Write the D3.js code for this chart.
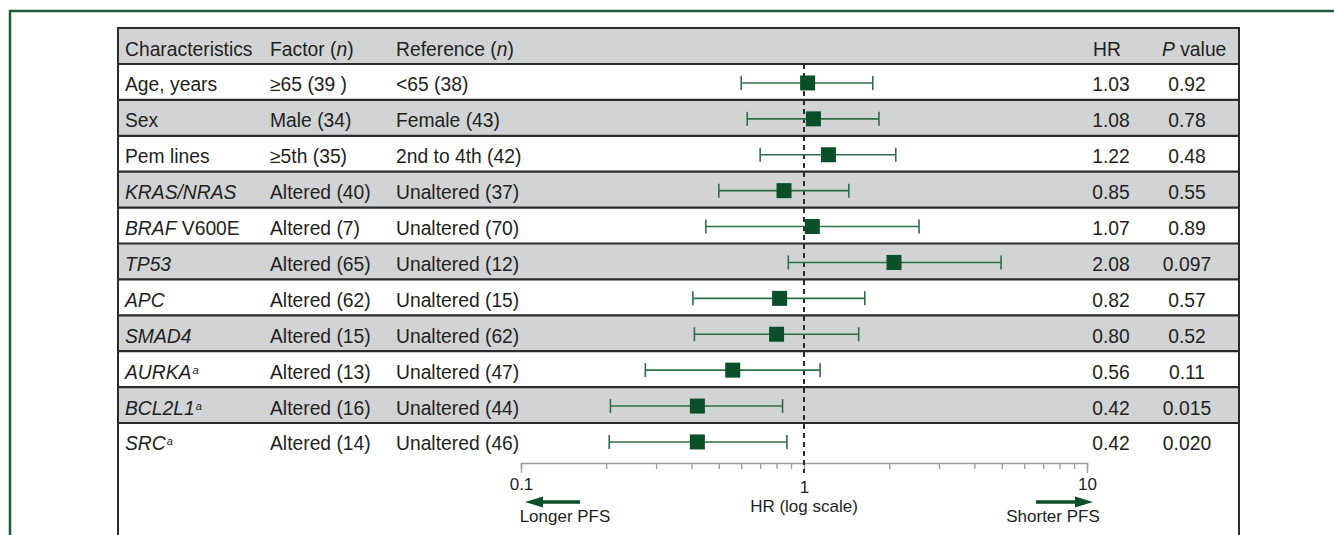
<!DOCTYPE html>
<html lang="en">
<head>
<meta charset="utf-8">
<script src="https://d3js.org/d3.v7.min.js"></script>
<style>
  body { margin: 0; background: #fff; }
  text { font-family: "Liberation Sans", Arial, Helvetica, sans-serif; fill: #231f20; }
</style>
</head>
<body>
<script>
// table data
const characteristics = ["Age, years", "Sex", "Pem lines", "KRAS/NRAS", "BRAF V600E", "TP53", "APC", "SMAD4", "AURKA", "BCL2L1", "SRC"];
const italicGenes = ["KRAS/NRAS", "BRAF", "TP53", "APC", "SMAD4", "AURKA", "BCL2L1", "SRC"];
const footnoted = ["AURKA", "BCL2L1", "SRC"];
const factors = ["≥65 (39 )", "Male (34)", "≥5th (35)", "Altered (40)", "Altered (7)", "Altered (65)", "Altered (62)", "Altered (15)", "Altered (13)", "Altered (16)", "Altered (14)"];
const references = ["<65 (38)", "Female (43)", "2nd to 4th (42)", "Unaltered (37)", "Unaltered (70)", "Unaltered (12)", "Unaltered (15)", "Unaltered (62)", "Unaltered (47)", "Unaltered (44)", "Unaltered (46)"];
const hr = [1.03, 1.08, 1.22, 0.85, 1.07, 2.08, 0.82, 0.80, 0.56, 0.42, 0.42];
const ciLow = [0.60, 0.63, 0.70, 0.50, 0.45, 0.88, 0.405, 0.41, 0.275, 0.207, 0.205];
const ciHigh = [1.75, 1.84, 2.11, 1.44, 2.55, 4.97, 1.64, 1.56, 1.14, 0.84, 0.87];
const pValues = ["0.92", "0.78", "0.48", "0.55", "0.89", "0.097", "0.57", "0.52", "0.11", "0.015", "0.020"];
const majorTicks = [0.1, 1, 10];
const minorTicks = [0.2, 0.3, 0.4, 0.5, 0.6, 0.7, 0.8, 0.9, 2, 3, 4, 5, 6, 7, 8, 9];

const width = 1334, height = 535;
const green = "#0b4f28", ciGreen = "#2f6f45", frameGreen = "#1d5e34";
const grey = "#d1d3d4", rule = "#2b2b2b";
const fs = 19.3;

const tableLeft = 118, tableRight = 1239, headTop = 28, headBottom = 64;
const rowH = 35.9;
const colX = { ch: 125, fac: 270, ref: 396, hr: 1111, p: 1187 };
const axisY = 463;

const x = d3.scaleLog().domain([0.1, 10]).range([521, 1087]);
const rowTop = i => headBottom + i * rowH;
const rowMid = i => rowTop(i) + rowH / 2;

const svg = d3.select("body").append("svg")
  .attr("width", width).attr("height", height);

// green outer frame
svg.append("path")
  .attr("d", `M10,${height} L10,11 L${width},11`)
  .attr("fill", "none").attr("stroke", frameGreen).attr("stroke-width", 2.5);

// header + striped rows
svg.append("rect").attr("x", tableLeft).attr("y", headTop)
  .attr("width", tableRight - tableLeft).attr("height", headBottom - headTop).attr("fill", grey);
svg.selectAll("rect.row").data(characteristics).join("rect")
  .attr("class", "row")
  .attr("x", tableLeft).attr("y", (d, i) => rowTop(i))
  .attr("width", tableRight - tableLeft).attr("height", rowH)
  .attr("fill", (d, i) => i % 2 ? grey : "#fff");

// horizontal rules
const ruleYs = [headTop, headBottom].concat(d3.range(1, characteristics.length).map(rowTop));
svg.selectAll("line.rule").data(ruleYs).join("line")
  .attr("class", "rule")
  .attr("x1", tableLeft).attr("x2", tableRight)
  .attr("y1", d => d).attr("y2", d => d)
  .attr("stroke", rule).attr("stroke-width", 2.2);

// vertical table borders
[tableLeft, tableRight].forEach(vx => {
  svg.append("line").attr("x1", vx).attr("x2", vx)
    .attr("y1", headTop - 1).attr("y2", height)
    .attr("stroke", rule).attr("stroke-width", 2);
});

// header text
const headY = (headTop + headBottom) / 2 + 9.5;
const head = svg.append("g").attr("font-size", fs);
head.append("text").attr("x", colX.ch).attr("y", headY).text("Characteristics");
let t = head.append("text").attr("x", colX.fac).attr("y", headY);
t.append("tspan").text("Factor (");
t.append("tspan").attr("font-style", "italic").text("n");
t.append("tspan").text(")");
t = head.append("text").attr("x", colX.ref).attr("y", headY);
t.append("tspan").text("Reference (");
t.append("tspan").attr("font-style", "italic").text("n");
t.append("tspan").text(")");
head.append("text").attr("x", 1093).attr("y", headY).text("HR");
t = head.append("text").attr("x", 1162).attr("y", headY);
t.append("tspan").attr("font-style", "italic").text("P");
t.append("tspan").text(" value");

// row text
const body = svg.append("g").attr("font-size", fs);
characteristics.forEach((c, i) => {
  const y = rowMid(i) + 9.5;
  const txt = body.append("text").attr("x", colX.ch).attr("y", y);
  const gene = italicGenes.find(g => c.startsWith(g));
  if (gene) {
    txt.append("tspan").attr("font-style", "italic").text(gene);
    if (c.length > gene.length) txt.append("tspan").text(c.slice(gene.length));
    if (footnoted.includes(gene)) {
      txt.append("tspan").attr("font-size", 11).attr("font-style", "italic")
        .attr("dx", 1).attr("dy", -5).text("a");
    }
  } else {
    txt.text(c);
  }
  body.append("text").attr("x", colX.fac).attr("y", y).text(factors[i]);
  body.append("text").attr("x", colX.ref).attr("y", y).text(references[i]);
  body.append("text").attr("x", colX.hr).attr("y", y).attr("text-anchor", "middle").text(hr[i].toFixed(2));
  body.append("text").attr("x", colX.p).attr("y", y).attr("text-anchor", "middle").text(pValues[i]);
});

// axis: minor ticks and major ticks
const minorAxis = svg.append("g").attr("transform", `translate(0,${axisY})`)
  .call(d3.axisBottom(x).tickValues(minorTicks).tickSize(6).tickFormat(""));
const majorAxis = svg.append("g").attr("transform", `translate(0,${axisY})`)
  .call(d3.axisBottom(x).tickValues(majorTicks).tickSize(10)
    .tickFormat(d => d3.format("")(d)));
[minorAxis, majorAxis].forEach(g => {
  g.select(".domain").attr("stroke", "#9d9d9d").attr("stroke-width", 1.5);
  g.selectAll(".tick line").attr("stroke", "#9d9d9d").attr("stroke-width", 1.3);
});
majorAxis.select(".domain").remove();
majorAxis.selectAll(".tick text")
  .attr("font-size", 17).attr("fill", "#231f20").attr("font-family", null)
  .attr("y", d => d === 1 ? 30 : 27).attr("dy", 0);

// reference line at HR = 1
svg.append("line")
  .attr("x1", x(1)).attr("x2", x(1))
  .attr("y1", headBottom).attr("y2", axisY + 10)
  .attr("stroke", "#2b2b2b").attr("stroke-width", 2).attr("stroke-dasharray", "5,4");

// confidence intervals
const ci = svg.append("g").attr("stroke", ciGreen).attr("stroke-width", 1.6);
hr.forEach((h, i) => {
  const y = rowMid(i) + 1;
  ci.append("line").attr("x1", x(ciLow[i])).attr("x2", x(ciHigh[i])).attr("y1", y).attr("y2", y);
  [ciLow[i], ciHigh[i]].forEach(v => {
    ci.append("line").attr("x1", x(v)).attr("x2", x(v)).attr("y1", y - 7).attr("y2", y + 7);
  });
});
svg.selectAll("rect.hr").data(hr).join("rect")
  .attr("class", "hr")
  .attr("x", d => x(d) - 7.5).attr("y", (d, i) => rowMid(i) + 1 - 7.5)
  .attr("width", 15).attr("height", 15).attr("fill", green);

// axis title + direction arrows
svg.append("text").attr("x", x(1)).attr("y", 512).attr("text-anchor", "middle")
  .attr("font-size", 17).text("HR (log scale)");
svg.append("text").attr("x", 565).attr("y", 522).attr("text-anchor", "middle")
  .attr("font-size", 17).text("Longer PFS");
svg.append("text").attr("x", 1053).attr("y", 522).attr("text-anchor", "middle")
  .attr("font-size", 17).text("Shorter PFS");

const arrowY = 502;
function arrow(tip, tail) {
  const dir = Math.sign(tail - tip);
  svg.append("line").attr("x1", tail).attr("x2", tip + dir * 14)
    .attr("y1", arrowY).attr("y2", arrowY)
    .attr("stroke", green).attr("stroke-width", 3.5);
  svg.append("path")
    .attr("d", `M${tip},${arrowY} L${tip + dir * 18},${arrowY - 5.5} L${tip + dir * 18},${arrowY + 5.5} Z`)
    .attr("fill", green);
}
arrow(525, 580);
arrow(1093, 1036);
</script>
</body>
</html>
